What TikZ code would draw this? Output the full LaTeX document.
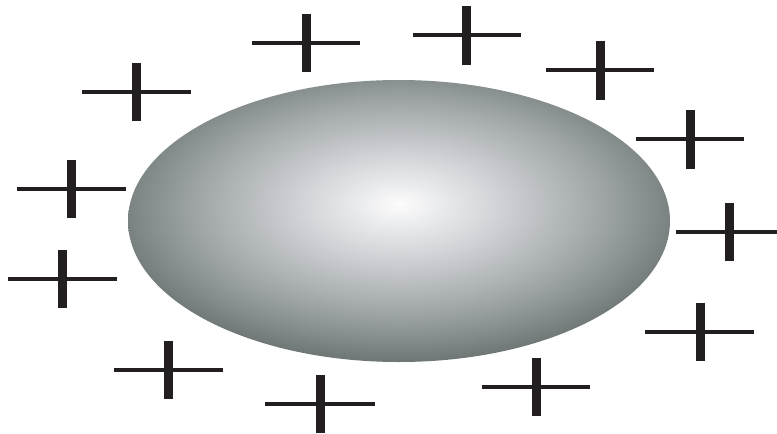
\documentclass[tikz,border=0pt]{standalone}
\definecolor{edgegr}{RGB}{74,86,82}
\definecolor{midgr}{RGB}{158,164,166}
\definecolor{litgr}{RGB}{214,216,220}
\definecolor{ctrgr}{RGB}{252,252,252}
\definecolor{barcol}{RGB}{35,31,32}
\pgfdeclareradialshading{ellshade}{\pgfpoint{0bp}{3bp}}{color(0bp)=(ctrgr); color(8bp)=(litgr); color(19bp)=(midgr); color(33bp)=(edgegr); color(100bp)=(edgegr)}
\tikzset{
  hbar/.style={draw=barcol, line width=4pt},
  vbar/.style={draw=barcol, line width=9pt},
}
\newcommand{\plussign}[7]{%
  \coordinate (#1h1) at (#2,#4);
  \coordinate (#1h2) at (#3,#4);
  \coordinate (#1v1) at (#5,#6);
  \coordinate (#1v2) at (#5,#7);
  \draw[hbar] (#1h1) -- (#1h2);
  \draw[vbar] (#1v1) -- (#1v2);
}
\begin{document}
\begin{tikzpicture}[x=1pt,y=-1pt]
\useasboundingbox (0,0) rectangle (777,434);
\fill[white] (0,0) rectangle (777,434);
\shade[shading=ellshade] (399,221) ellipse [x radius=271, y radius=141];
\node[inner sep=0pt, minimum size=0pt] (ell) at (399,221) {};
\plussign{a}{82}{191}{91.5}{136}{62.5}{120.5}
\plussign{b}{252}{360}{42.5}{306}{13.5}{71.5}
\plussign{c}{412.5}{520.5}{35}{466.5}{6}{64.5}
\plussign{d}{546}{654}{69.5}{600}{40.5}{99.5}
\plussign{e}{635.5}{744}{139}{690}{110}{168.5}
\plussign{f}{675.5}{777}{231.5}{729.5}{202.5}{260.5}
\plussign{g}{645}{754}{331.5}{700}{302.5}{361}
\plussign{h}{481.5}{590}{386.5}{536}{357.5}{416}
\plussign{i}{265}{374.5}{403.5}{320}{374.5}{432.5}
\plussign{j}{113.5}{222.5}{369.5}{168.5}{340.5}{399}
\plussign{k}{8}{117}{279}{62.5}{250}{308}
\plussign{l}{17}{126}{189}{71.5}{160}{218}
\end{tikzpicture}
\end{document}
